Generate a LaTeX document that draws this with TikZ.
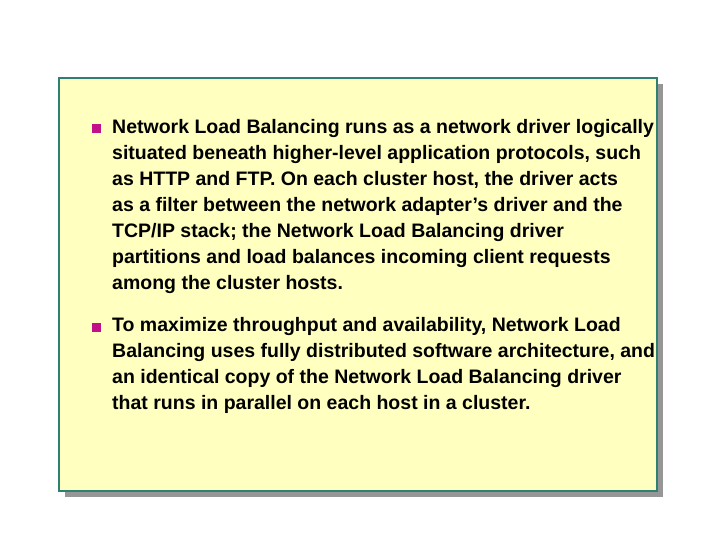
\documentclass[tikz,border=0pt]{standalone}
\usepackage{fontspec}
\setmainfont{Liberation Sans}
\definecolor{boxfill}{HTML}{FFFFC0}
\definecolor{boxline}{HTML}{2E8070}
\definecolor{shadow}{HTML}{969696}
\definecolor{bul}{HTML}{C0108A}
\tikzset{
  bulletsq/.style={fill=bul,minimum size=9pt,inner sep=0pt},
  para/.style={anchor=north west,inner sep=0pt,align=left,font=\fontsize{19.5}{26}\selectfont\bfseries}
}
\begin{document}
\begin{tikzpicture}[x=1pt,y=-1pt]
\useasboundingbox (0,0) rectangle (720,540);
\fill[shadow] (65,84) rectangle (663,497);
\filldraw[fill=boxfill,draw=boxline,line width=2pt] (59,78) rectangle (657,491) ;
\node[bulletsq] (b1) at (96,129) {};
\node[bulletsq] (b2) at (96,327) {};
\node[para] (t1) at (112,119) {Network Load Balancing runs as a network driver logically\\
situated beneath higher-level application protocols, such\\
as HTTP and FTP. On each cluster host, the driver acts\\
as a filter between the network adapter’s driver and the\\
TCP/IP stack; the Network Load Balancing driver\\
partitions and load balances incoming client requests\\
among the cluster hosts.};
\node[para] (t2) at (112,317) {To maximize throughput and availability, Network Load\\
Balancing uses fully distributed software architecture, and\\
an identical copy of the Network Load Balancing driver\\
that runs in parallel on each host in a cluster.};
\end{tikzpicture}
\end{document}
